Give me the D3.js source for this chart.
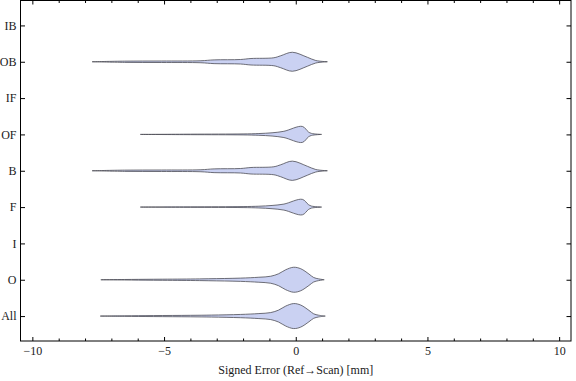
<!DOCTYPE html>
<html>
<head>
<meta charset="utf-8">
<script src="https://cdn.jsdelivr.net/npm/d3@7"></script>
<style>
	body { margin: 0; background: #fff; }
	text { font-family: 'Liberation Serif', 'DejaVu Serif', serif; fill: #1a1a1a; }
</style>
</head>
<body>
<svg id="chart" width="576" height="381"></svg>
<script>
const svgEl = document.getElementById('chart')
const width = +svgEl.getAttribute('width')
const height = +svgEl.getAttribute('height')
const svg = d3.select('#chart')

// categorie dal basso verso l'alto
const categories = ['All', 'O', 'I', 'F', 'B', 'OF', 'IF', 'OB', 'IB']
const xTicks = [-10, -5, 0, 5, 10]
const xLabel = 'Signed Error (Ref\u2192Scan) [mm]'

// profili delle violin: [errore mm, densità relativa]
const allErr = [[-7.42, 0], [-6.5, 0.02], [-5.4, 0.04], [-4.0, 0.06], [-3.2, 0.08], [-2.1, 0.13], [-1.4, 0.2], [-0.95, 0.28], [-0.65, 0.48], [-0.38, 0.8], [-0.08, 1.0], [0.19, 0.88], [0.5, 0.46], [0.68, 0.18], [0.87, 0.07], [1.12, 0]]
const oErr = [[-7.4, 0], [-6.5, 0.02], [-5.4, 0.04], [-4.0, 0.06], [-3.3, 0.08], [-2.1, 0.13], [-1.4, 0.2], [-0.95, 0.28], [-0.65, 0.48], [-0.38, 0.8], [-0.08, 1.0], [0.19, 0.88], [0.5, 0.46], [0.68, 0.18], [0.87, 0.07], [1.08, 0]]
const fErr = [[-5.9, 0], [-4.0, 0.02], [-2.0, 0.04], [-1.4, 0.07], [-0.9, 0.13], [-0.45, 0.24], [0.25, 0.62], [0.48, 0.2], [0.6, 0.08], [0.98, 0]]
const ofErr = [[-5.9, 0], [-4.0, 0.02], [-2.0, 0.04], [-1.4, 0.07], [-0.9, 0.13], [-0.45, 0.25], [0.25, 0.64], [0.48, 0.2], [0.6, 0.08], [0.98, 0]]
const bErr = [[-7.73, 0], [-6.5, 0.05], [-5.1, 0.06], [-3.6, 0.08], [-3.1, 0.15], [-2.1, 0.18], [-1.7, 0.26], [-0.83, 0.32], [-0.57, 0.48], [-0.13, 0.77], [0.44, 0.36], [0.76, 0.1], [1.2, 0]]
const obErr = [[-7.73, 0], [-6.5, 0.05], [-5.1, 0.06], [-3.6, 0.08], [-3.1, 0.15], [-2.1, 0.18], [-1.7, 0.26], [-0.83, 0.32], [-0.57, 0.48], [-0.13, 0.76], [0.44, 0.36], [0.76, 0.1], [1.2, 0]]

const violins = [
	{ cat: 'All', pts: allErr },
	{ cat: 'O', pts: oErr },
	{ cat: 'F', pts: fErr },
	{ cat: 'B', pts: bErr },
	{ cat: 'OF', pts: ofErr },
	{ cat: 'OB', pts: obErr }
]

const pLeft = 20.5, pRight = 571, pTop = 0.5, pBottom = 341
const fillColor = '#cad1f2'
const strokeColor = '#4d4d55'

const xScale = d3.scaleLinear()
	.domain([-10.45, 10.45])
	.range([pLeft, pRight])

const yScale = d3.scaleLinear()
	.domain([0.314, categories.length + 0.686])
	.range([pBottom, pTop])

const wScale = d3.scaleLinear()
	.domain([0, 1])
	.range([0, 12.5])

// violin
const area = d3.area()
	.x(d => xScale(d[0]))
	.curve(d3.curveCatmullRom.alpha(0.5))

svg.selectAll('path.violin')
	.data(violins)
	.enter()
	.append('path')
		.attr('class', 'violin')
		.attr('d', v => {
			const cy = yScale(categories.indexOf(v.cat) + 1)
			return area
				.y0(d => cy + wScale(d[1]))
				.y1(d => cy - wScale(d[1]))(v.pts)
		})
		.attr('fill', fillColor)
		.attr('stroke', strokeColor)
		.attr('stroke-width', 0.8)
		.attr('stroke-linejoin', 'round')

// assi con tacche verso l'interno
const minorTicks = d3.range(-10, 11).filter(t => t % 5 !== 0)

const xBottom = d3.axisBottom(xScale)
	.tickValues(xTicks)
	.tickSizeInner(-4)
	.tickSizeOuter(0)
	.tickPadding(5)
	.tickFormat(d => d < 0 ? '\u2212' + Math.abs(d) : d)

svg.append('g')
	.attr('transform', `translate(0, ${pBottom})`)
	.call(xBottom)

svg.append('g')
	.attr('transform', `translate(0, ${pBottom})`)
	.call(d3.axisBottom(xScale).tickValues(minorTicks).tickSizeInner(-2.5).tickSizeOuter(0).tickFormat(''))

svg.append('g')
	.attr('transform', `translate(0, ${pTop})`)
	.call(d3.axisTop(xScale).tickValues(xTicks).tickSizeInner(-4).tickSizeOuter(0).tickFormat(''))

svg.append('g')
	.attr('transform', `translate(0, ${pTop})`)
	.call(d3.axisTop(xScale).tickValues(minorTicks).tickSizeInner(-2.5).tickSizeOuter(0).tickFormat(''))

const yLeft = d3.axisLeft(yScale)
	.tickValues(d3.range(1, categories.length + 1))
	.tickSizeInner(-4.5)
	.tickSizeOuter(0)
	.tickPadding(4)
	.tickFormat(d => categories[d - 1])

svg.append('g')
	.attr('transform', `translate(${pLeft}, 0)`)
	.call(yLeft)

svg.append('g')
	.attr('transform', `translate(${pRight}, 0)`)
	.call(d3.axisRight(yScale).tickValues(d3.range(1, categories.length + 1)).tickSizeInner(-4.5).tickSizeOuter(0).tickFormat(''))

svg.selectAll('.tick line')
	.style('stroke', '#000')

svg.selectAll('path.domain')
	.style('stroke-width', 0)

svg.selectAll('.tick text')
	.style('font-family', "'Liberation Serif', serif")
	.style('font-size', '12px')
	.style('fill', '#1a1a1a')

// cornice
svg.append('rect')
	.attr('x', pLeft)
	.attr('y', pTop)
	.attr('width', pRight - pLeft)
	.attr('height', pBottom - pTop)
	.attr('fill', 'none')
	.attr('stroke', '#000')
	.attr('stroke-width', 1)

svg.append('text')
	.attr('x', (pLeft + pRight) / 2)
	.attr('y', 374)
	.attr('text-anchor', 'middle')
	.style('font-size', '12px')
	.text(xLabel)
</script>
</body>
</html>
